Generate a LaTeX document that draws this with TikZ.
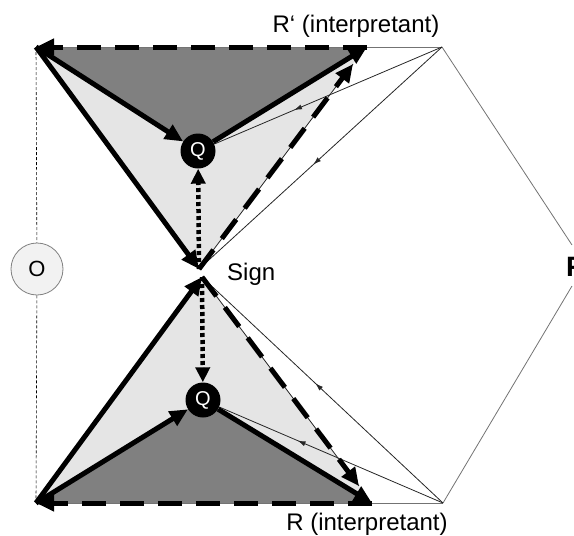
\documentclass[tikz,border=0pt]{standalone}
\usepackage{fontspec}
\setmainfont{Liberation Sans}
\usetikzlibrary{arrows.meta,decorations.markings}
\begin{document}
\begin{tikzpicture}[x=1pt,y=-1pt,
  thickln/.style={line width=5pt},
  bigtip/.style={-{Triangle[length=18pt,width=16pt]}},
  dashthick/.style={line width=5pt,dash pattern=on 24pt off 14pt},
  dotthick/.style={line width=4.5pt,dash pattern=on 4pt off 3pt},
  thinln/.style={line width=0.8pt,black!85},
  grayln/.style={line width=0.8pt,black!55},
  midarrow/.style={postaction={decorate},decoration={markings,mark=at position #1 with {\arrow{Latex[length=8pt,width=5pt]}}}},
  qnode/.style={circle,fill=black,minimum size=35pt,inner sep=0pt,text=white,font=\fontsize{20}{22}\selectfont},
  onode/.style={circle,fill=black!5,draw=black!50,line width=0.8pt,minimum size=52pt,inner sep=0pt,font=\fontsize{22}{24}\selectfont},
  lbl/.style={font=\fontsize{24}{28}\selectfont,inner sep=0pt}
]
\useasboundingbox (0,0) rectangle (574,536);
% coordinates
\coordinate (TL) at (36,47);
\coordinate (TR) at (442,47);
\coordinate (BL) at (36,503);
\coordinate (BR) at (443,503);
\coordinate (S1) at (199,269);
\coordinate (S2) at (202,277);
\coordinate (T1) at (367,47);
\coordinate (D1) at (353,64);
\coordinate (B1) at (372,503);
\coordinate (D2) at (359,486);
\coordinate (Q1c) at (198,151);
\coordinate (Q2c) at (203,400);
\coordinate (Fa) at (572,245);
\coordinate (Fb) at (572,286);
% fills
\fill[black!10] (TL) -- (S1) -- (D1) -- (T1) -- cycle;
\fill[black!50] (TL) -- (Q1c) -- (T1) -- cycle;
\fill[black!10] (BL) -- (S2) -- (D2) -- (B1) -- cycle;
\fill[black!50] (BL) -- (Q2c) -- (B1) -- cycle;
% nodes
\node[qnode] (Q1) at (Q1c) {Q};
\node[qnode] (Q2) at (Q2c) {Q};
\node[onode] (O) at (37,269) {O};
\node[lbl,anchor=base west] (sign) at (227,280) {Sign};
\node[lbl,anchor=base] (rtop) at (356,32) {R‘ (interpretant)};
\node[lbl,anchor=base] (rbot) at (367,530) {R (interpretant)};
\node[font=\fontsize{28}{30}\selectfont\bfseries,inner sep=0pt,anchor=base west] (F) at (566,276) {F};
% thin lines
\draw[grayln] (TL) -- (TR);
\draw[grayln] (BL) -- (BR);
\draw[grayln] (TR) -- (Fa);
\draw[grayln] (BR) -- (Fb);
\draw[thinln,midarrow=0.65] (TR) -- (Q1);
\draw[thinln,midarrow=0.53] (TR) -- (S1);
\draw[thinln,midarrow=0.65] (BR) -- (Q2);
\draw[thinln,midarrow=0.53] (BR) -- (S2);
\draw[thinln] (S1) -- (D1);
\draw[thinln] (S2) -- (D2);
\draw[line width=0.6pt,dash pattern=on 3pt off 2pt] (TL) -- (O);
\draw[line width=0.6pt,dash pattern=on 3pt off 2pt] (O) -- (BL);
% thick lines top
\draw[thickln,bigtip] (TL) -- (Q1);
\draw[thickln,bigtip] (Q1) -- (T1);
\draw[thickln,bigtip] (TL) -- (S1);
\draw[dashthick,bigtip] (T1) -- (TL);
\draw[dashthick,bigtip] (S1) -- (D1);
\draw[dotthick,-{Triangle[length=15pt,width=14pt]}] (S1) -- (Q1);
% thick lines bottom
\draw[thickln,bigtip] (BL) -- (Q2);
\draw[thickln,bigtip] (Q2) -- (B1);
\draw[thickln,bigtip] (BL) -- (S2);
\draw[dashthick,bigtip] (B1) -- (BL);
\draw[dashthick,bigtip] (S2) -- (D2);
\draw[dotthick,-{Triangle[length=15pt,width=14pt]}] (S2) -- (Q2);
\end{tikzpicture}
\end{document}
